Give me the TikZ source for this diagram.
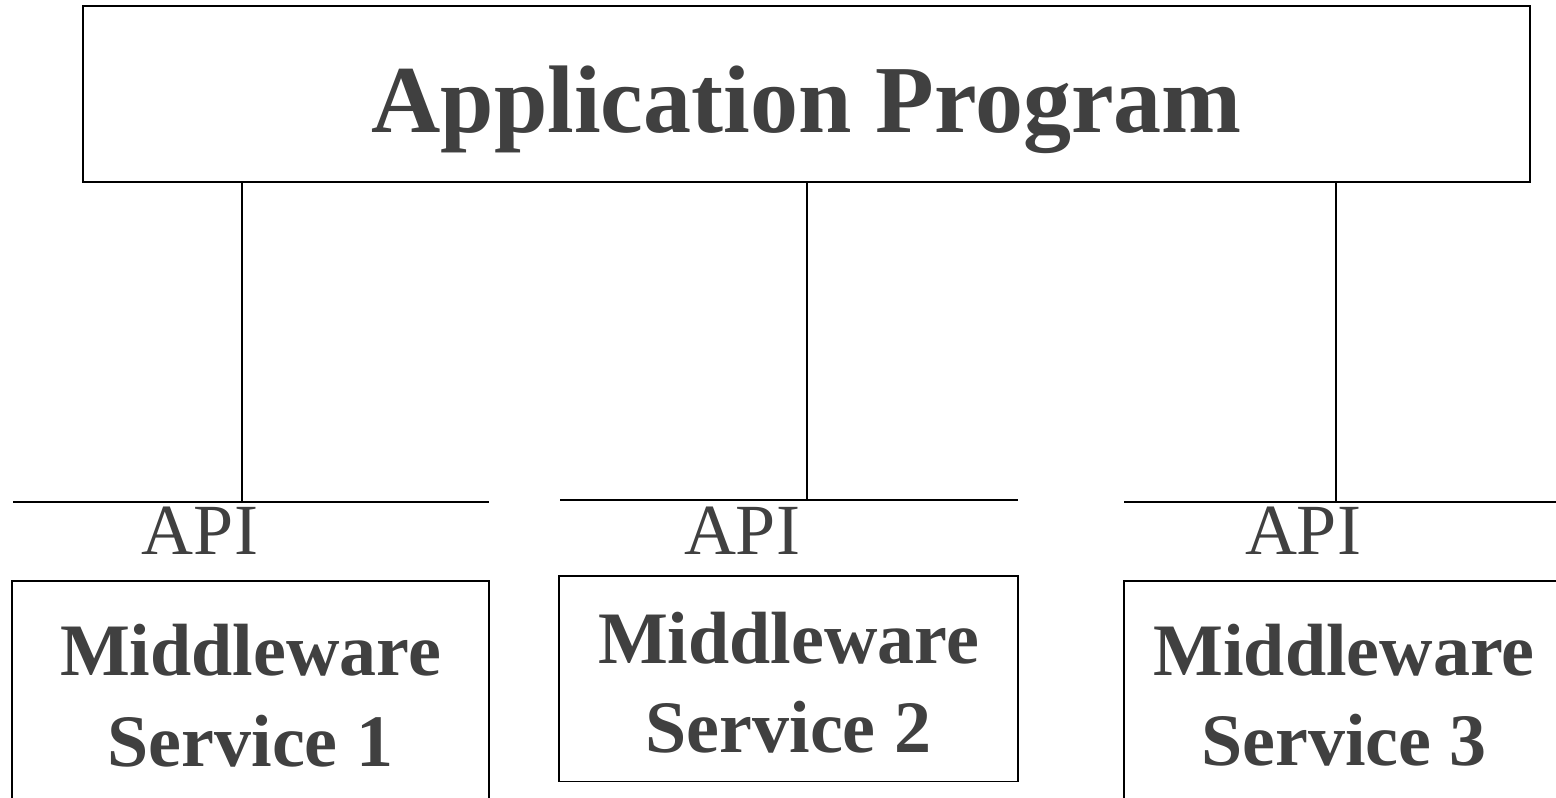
\documentclass[tikz,border=0pt]{standalone}
\usepackage{fontspec}
\setmainfont{Liberation Serif}
\definecolor{txt}{HTML}{404040}
\begin{document}
\begin{tikzpicture}[x=1pt,y=1pt,
  line/.style={draw=black,line width=1.6pt},
  box/.style={draw=black,line width=1.6pt,fill=none},
  title/.style={text=txt,font=\bfseries\fontsize{96}{100}\selectfont,anchor=base,inner sep=0pt},
  apitext/.style={text=txt,font=\fontsize{72}{76}\selectfont,anchor=base,inner sep=0pt},
  mwtext/.style={text=txt,font=\bfseries\fontsize{74}{78}\selectfont,anchor=base,inner sep=0pt}]
\useasboundingbox (0,0) rectangle (1556,798);
\clip (0,0) rectangle (1556,798);
% top box
\draw[box] (83,616) rectangle (1530,792);
\coordinate (appS) at (806.5,616);
\node[title] (app) at (806.5,665) {Application Program};
% API lines
\coordinate (a1l) at (13,296); \coordinate (a1r) at (489,296);
\coordinate (a2l) at (560,298); \coordinate (a2r) at (1018,298);
\coordinate (a3l) at (1124,296); \coordinate (a3r) at (1556,296);
\draw[line] (a1l) -- (a1r);
\draw[line] (a2l) -- (a2r);
\draw[line] (a3l) -- (a3r);
\coordinate (v1) at (242,296);
\coordinate (v2) at (807,298);
\coordinate (v3) at (1336,296);
\draw[line] (appS -| v1) -- (v1);
\draw[line] (appS -| v2) -- (v2);
\draw[line] (appS -| v3) -- (v3);
\node[apitext] (api1) at (200,243) {API};
\node[apitext] (api2) at (742,243) {API};
\node[apitext] (api3) at (1303,243) {API};
% middleware boxes
\draw[box] (12,-10) rectangle (489,217);
\draw[box] (559,16.5) rectangle (1018,222);
\draw[box] (1124,-10) rectangle (1564,217);
\node[mwtext] (m1a) at (250.5,122) {Middleware};
\node[mwtext] (m1b) at (250.5,31) {Service 1};
\node[mwtext] (m2a) at (788.5,134) {Middleware};
\node[mwtext] (m2b) at (788.5,45) {Service 2};
\node[mwtext] (m3a) at (1344,122) {Middleware};
\node[mwtext] (m3b) at (1344,32) {Service 3};
\end{tikzpicture}
\end{document}
